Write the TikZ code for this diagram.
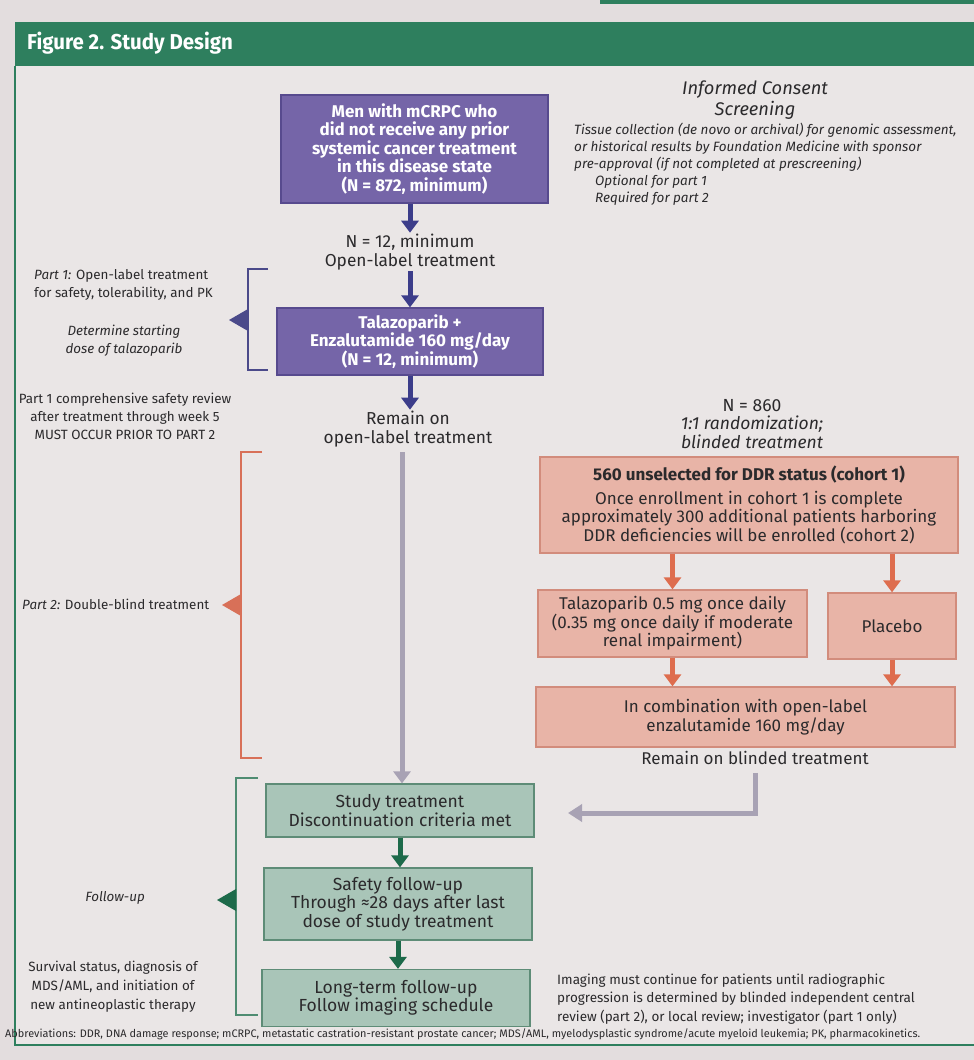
\documentclass[tikz,border=0pt]{standalone}
\usepackage{fontspec}
\setmainfont{Fira Sans}
\usetikzlibrary{arrows.meta}
\definecolor{bgc}{HTML}{E3DDDE}
\definecolor{panelc}{HTML}{EAE6E6}
\definecolor{hdr}{HTML}{2E7F5E}
\definecolor{txt}{HTML}{2B2A2C}
\definecolor{pfill}{HTML}{7565A8}
\definecolor{pdraw}{HTML}{574A8E}
\definecolor{parrow}{HTML}{3C3D8A}
\definecolor{pbrack}{HTML}{4B4A8A}
\definecolor{sfill}{HTML}{E8B4A7}
\definecolor{sdraw}{HTML}{D28C7C}
\definecolor{sarrow}{HTML}{DE6D4E}
\definecolor{sbrack}{HTML}{D87058}
\definecolor{gfill}{HTML}{A9C5B8}
\definecolor{gdraw}{HTML}{5E8C77}
\definecolor{garrow}{HTML}{1D6A4A}
\definecolor{gbrack}{HTML}{4F8C72}
\definecolor{greyarrow}{HTML}{A8A2B4}
\begin{document}
\begin{tikzpicture}[x=1pt,y=-1pt,
  every node/.style={text=txt, inner sep=1pt},
  boxbase/.style={draw, line width=1.3pt, align=center, inner sep=0pt},
  pbox/.style={boxbase, fill=pfill, draw=pdraw, text=white, font=\fontsize{17}{18.4}\selectfont\bfseries},
  sbox/.style={boxbase, fill=sfill, draw=sdraw, font=\fontsize{17}{18.5}\selectfont},
  gbox/.style={boxbase, fill=gfill, draw=gdraw, font=\fontsize{17.5}{18.5}\selectfont\mdseries},
  midtxt/.style={align=center, font=\fontsize{17.3}{19}\selectfont},
  sidetxt/.style={font=\fontsize{13.4}{18}\selectfont},
  fat/.style={line width=5pt, -{Triangle[width=17pt,length=12pt]}},
  parr/.style={fat, draw=parrow},
  sarr/.style={fat, draw=sarrow},
  garr/.style={fat, draw=garrow},
  greyarr/.style={fat, draw=greyarrow},
  brack/.style={line width=1.4pt},
]
\useasboundingbox (0,0) rectangle (974,1060);
\fill[bgc] (0,0) rectangle (974,1060);
\fill[hdr] (600,0) rectangle (974,4);
\fill[panelc] (15,66) rectangle (974,1045);
\fill[hdr] (15,22) rectangle (974,66);
\draw[hdr, line width=2pt] (15,66) -- (15,1045) -- (974,1045);
\node[anchor=west, text=white, font=\fontsize{21.5}{23}\selectfont\bfseries] (title) at (26,43) {\scalebox{0.95}[1]{Figure 2. Study Design}};

% purple column
\node[pbox, minimum width=267pt, minimum height=108pt] (b1) at (414.5,149)
  {Men with mCRPC who\\did not receive any prior\\systemic cancer treatment\\in this disease state\\(N = 872, minimum)};
\node[midtxt] (n12) at (410,252) {N = 12, minimum\\Open-label treatment};
\node[pbox, minimum width=266pt, minimum height=67pt] (b2) at (410,341.5)
  {Talazoparib +\\Enzalutamide 160 mg/day\\(N = 12, minimum)};
\node[midtxt] (r1) at (408,429) {Remain on\\open-label treatment};
\draw[parr] (b1.south -| n12) -- (n12.north);
\draw[parr] (n12.south) -- (n12.south |- b2.north);
\draw[parr] (b2.south) -- (b2.south |- r1.north);

% green column
\node[gbox, minimum width=268pt, minimum height=53pt] (g1) at (400,810.5)
  {Study treatment\\Discontinuation criteria met};
\node[gbox, minimum width=268pt, minimum height=72pt] (g2) at (398,904)
  {Safety follow-up\\Through \char"2248 28 days after last\\dose of study treatment};
\node[gbox, minimum width=268pt, minimum height=57pt] (g3) at (396,998)
  {Long-term follow-up\\Follow imaging schedule};
\draw[greyarr] (r1.south -| g1.north) ++(2,4) -- (g1.north -| 402,0);
\draw[garr] (g1.south) -- (g1.south |- g2.north);
\draw[garr] (g2.south) -- (g2.south |- g3.north);

% right column
\node[align=center, font=\fontsize{18.3}{21}\selectfont\itshape] (ic) at (755,100) {Informed Consent\\Screening};
\node[anchor=north west, align=left, font=\fontsize{13.5}{17}\selectfont\itshape] (scr) at (573,122)
  {Tissue collection (de novo or archival) for genomic assessment,\\
   or historical results by Foundation Medicine with sponsor\\
   pre-approval (if not completed at prescreening)\\
   \hspace*{21pt}Optional for part 1\\
   \hspace*{21pt}Required for part 2};
\node[align=center, font=\fontsize{17.5}{18.5}\selectfont] (n860) at (752,424)
  {N = 860\\\textit{1:1 randomization;}\\\textit{blinded treatment}};
\node[sbox, minimum width=418pt, minimum height=96pt] (s1) at (749,505)
  {{\bfseries 560 unselected for DDR status (cohort 1)}\\[5pt]
   Once enrollment in cohort 1 is complete\\approximately 300 additional patients harboring\\DDR deficiencies will be enrolled (cohort 2)};
\node[sbox, minimum width=269pt, minimum height=67pt] (tz) at (672.5,623.5)
  {{\mdseries Talazoparib 0.5 mg once daily}\\(0.35 mg once daily if moderate\\renal impairment)};
\node[sbox, minimum width=128pt, minimum height=66pt] (pl) at (892,626) {Placebo};
\node[sbox, minimum width=419pt, minimum height=60pt] (cb) at (745.5,717)
  {In combination with open-label\\enzalutamide 160 mg/day};
\node[font=\fontsize{17}{19}\selectfont] (rb) at (755,758) {Remain on blinded treatment};
\draw[sarr] (s1.south -| tz.north) -- (tz.north);
\draw[sarr] (s1.south -| pl.north) -- (pl.north);
\draw[sarr] (tz.south) -- (tz.south |- cb.north);
\draw[sarr] (pl.south) -- (pl.south |- cb.north);
\coordinate (ge) at (568,813);
\draw[greyarr, -{Triangle[width=17pt,length=14pt]}] (rb.south) ++(0,7) |- (ge);

% brackets
\draw[brack, pbrack] (268,269) -- (248,269) -- (248,370) -- (268,370);
\fill[pbrack] (248,309) -- (229,320) -- (248,331) -- cycle;
\draw[brack, sbrack] (262,452) -- (241,452) -- (241,758) -- (262,758);
\fill[sbrack] (241,594) -- (222,605) -- (241,616) -- cycle;
\draw[brack, gbrack] (258,778) -- (236,778) -- (236,1015) -- (258,1015);
\fill[garrow] (236,889) -- (217,900) -- (236,911) -- cycle;

% left texts
\node[sidetxt, anchor=west, align=left] (p1) at (33,285)
  {\textit{Part 1:} Open-label treatment\\for safety, tolerability, and PK};
\node[sidetxt, align=center, font=\fontsize{13.4}{18}\selectfont\itshape] (det) at (124,341)
  {Determine starting\\dose of talazoparib};
\node[sidetxt, align=center] (rev) at (125,416)
  {Part 1 comprehensive safety review\\after treatment through week 5\\MUST OCCUR PRIOR TO PART 2};
\node[sidetxt, anchor=west] (p2) at (21,604) {\textit{Part 2:} Double-blind treatment};
\node[sidetxt, font=\fontsize{13.4}{18}\selectfont\itshape] (fu) at (115,898) {Follow-up};
\node[sidetxt, align=center, font=\fontsize{13.4}{19}\selectfont] (surv) at (113,987)
  {Survival status, diagnosis of\\MDS/AML, and initiation of\\new antineoplastic therapy};

\node[anchor=west, align=left, font=\fontsize{13.5}{18.5}\selectfont] (img) at (556,999)
  {Imaging must continue for patients until radiographic\\progression is determined by blinded independent central\\review (part 2), or local review; investigator (part 1 only)};
\node[anchor=west, font=\fontsize{10.9}{12}\selectfont] (abbr) at (4,1034)
  {Abbreviations: DDR, DNA damage response; mCRPC, metastatic castration-resistant prostate cancer; MDS/AML, myelodysplastic syndrome/acute myeloid leukemia; PK, pharmacokinetics.};
\end{tikzpicture}
\end{document}
